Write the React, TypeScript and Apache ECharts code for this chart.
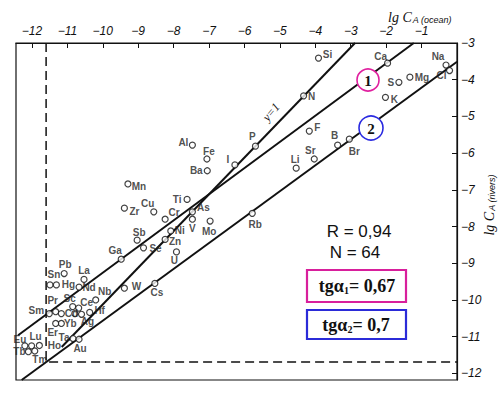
import React, { useEffect, useRef } from "react";
import * as echarts from "echarts";

// ---- data (lg C, ocean vs rivers) ----
const elements = ["Si","Ca","Na","Cl","S","Mg","K","N","F","B","Br","Sr","Li","P","Al","Fe","Ba","I","Ti","As","V","Mo","Rb","Cr","Cu","Mn","Zr","Sb","Ni","Zn","Se","U","Ga","Cs","W","Pb","Sn","Hg","La","Nd","Nb","Hf","Pr","Sc","Ce","Sm","Cd","Ag","","Yb","Er","Ta","Au","Eu","Lu","Ho","Tb","Tm"];
const lgOcean = [-3.91,-1.96,-0.31,-0.21,-1.64,-1.33,-2.02,-4.33,-4.17,-3.37,-3.04,-4.03,-4.54,-5.69,-7.47,-7.06,-7.05,-6.27,-7.62,-7.47,-7.47,-6.97,-5.78,-8.24,-8.56,-9.29,-9.39,-9.03,-8.08,-8.24,-8.85,-7.92,-9.48,-8.53,-9.39,-11.09,-11.49,-11.31,-10.53,-10.67,-10.20,-10.37,-11.33,-10.85,-10.68,-11.51,-11.17,-10.60,-10.79,-11.17,-11.33,-10.84,-10.67,-12.20,-12.01,-11.79,-12.10,-11.92];
const lgRivers = [-3.41,-3.55,-3.60,-3.75,-4.07,-3.93,-4.48,-4.44,-5.40,-5.78,-5.62,-6.16,-6.41,-5.81,-5.78,-6.16,-6.48,-6.32,-7.26,-7.60,-7.80,-7.85,-7.64,-7.80,-7.60,-6.84,-7.50,-8.37,-8.12,-8.35,-8.58,-8.69,-8.89,-9.55,-9.68,-9.28,-9.59,-9.59,-9.44,-9.65,-10.00,-10.34,-10.32,-10.18,-10.22,-10.37,-10.37,-10.39,-10.37,-10.64,-10.64,-11.05,-11.07,-11.25,-11.25,-11.24,-11.41,-11.39];

const unitLineX = [-11.16, -2.88];
const unitLineY = [-11.28, -3.0];
const line1X = [-12.39, -1.22];
const line1Y = [-10.96, -3.0];
const line2X = [-12.29, 0];
const line2Y = [-12.18, -3.51];
const limitX = [-11.6, -11.6, 0];
const limitY = [-3, -11.69, -11.69];

const oceanTicks = [-12, -11, -10, -9, -8, -7, -6, -5, -4, -3, -2, -1];
const riverTicks = [-3, -4, -5, -6, -7, -8, -9, -10, -11, -12];

// label offsets (px) from circle centre to label centre
const labelOffset: Record<string, [number, number]> = {
  Si: [9, -4], Ca: [-7, -7], Na: [-8, -9], Cl: [-8, 5], S: [-8, 0], Mg: [12, 0], K: [9, 2],
  N: [8, 1], F: [8, -4], B: [-3, -10], Br: [5, 12], Sr: [-4, -9], Li: [-1, -9], P: [-3, -10],
  Al: [-9, -3], Fe: [2, -8], Ba: [-11, 0], I: [-7, -5], Ti: [-10, 0], As: [11, -4], V: [0, 9],
  Mo: [-1, 10], Rb: [3, 11], Cr: [9, -7], Cu: [-6, -8], Mn: [11, 3], Zr: [10, 3], Sb: [2, -8],
  Ni: [9, 0], Zn: [10, 2], Se: [12, 1], U: [-2, 9], Ga: [-6, -9], Cs: [2, 9], W: [12, -2],
  Pb: [1, -9], Sn: [4, -10], Hg: [12, 0], La: [0, -9], Nd: [10, 0], Nb: [9, -8], Hf: [10, -2],
  Pr: [-3, -11], Sc: [-3, -8], Ce: [8, -6], Sm: [-13, -3], Cd: [10, 0], Ag: [6, 7], Yb: [9, 0],
  Er: [-3, 9], Ta: [-9, -1], Au: [1, 9], Eu: [-5, -6], Lu: [4, -9], Ho: [15, 0], Tb: [-9, 0], Tm: [5, 9],
};

const pairs = (xs: number[], ys: number[]) => xs.map((x, i) => [x, ys[i]]);

export default function App() {
  const ref = useRef<HTMLDivElement>(null);
  useEffect(() => {
    if (!ref.current) return;
    const chart = echarts.init(ref.current, undefined, { renderer: "svg" });
    const axisFont = { fontFamily: "Liberation Sans", fontStyle: "italic" as const, fontSize: 12, color: "#111" };
    const fmt = (v: number) => String(v).replace("-", "\u2212");
    const solid = { color: "#111", width: 2 };
    chart.setOption({
      animation: false,
      grid: { left: 16, right: 44, top: 43, bottom: 13, show: true, borderColor: "#111", borderWidth: 1.2, outerBoundsMode: "none" },
      xAxis: {
        type: "value", position: "top", min: -12.45, max: 0,
        axisLine: { show: true, onZero: false, lineStyle: { color: "#111", width: 1.2 } },
        axisTick: { show: true, inside: true, length: 5, customValues: oceanTicks, lineStyle: { color: "#111" } },
        axisLabel: { customValues: oceanTicks, formatter: fmt, margin: 6, ...axisFont },
        splitLine: { show: false },
      },
      yAxis: {
        type: "value", position: "right", min: -12.18, max: -3,
        axisLine: { show: true, onZero: false, lineStyle: { color: "#111", width: 1.2 } },
        axisTick: { show: true, inside: true, length: 5, customValues: riverTicks, lineStyle: { color: "#111" } },
        axisLabel: { customValues: riverTicks, formatter: fmt, margin: 4, ...axisFont },
        splitLine: { show: false },
      },
      series: [
        { type: "line", data: pairs(unitLineX, unitLineY), symbol: "none", lineStyle: solid, z: 2, silent: true },
        { type: "line", data: pairs(line1X, line1Y), symbol: "none", lineStyle: solid, z: 2, silent: true },
        { type: "line", data: pairs(line2X, line2Y), symbol: "none", lineStyle: solid, z: 2, silent: true },
        { type: "line", data: pairs(limitX, limitY), symbol: "none", lineStyle: { color: "#111", width: 1.5, type: [9, 5] }, z: 2, silent: true },
        {
          type: "scatter", z: 5, silent: true,
          symbol: "circle", symbolSize: 6,
          itemStyle: { color: "#fff", borderColor: "#111", borderWidth: 1.2 },
          label: {
            show: true, position: "inside", formatter: "{b}",
            fontFamily: "Liberation Sans", fontWeight: "bold", fontSize: 10, color: "#222",
          },
          data: elements.map((n, i) => ({
            name: n, value: [lgOcean[i], lgRivers[i]],
            label: { offset: labelOffset[n] || [0, 0] },
          })),
        },
      ],
      graphic: [
        { type: "text", z: 100, x: 388, y: 17, style: { text: "{c|lg }{c|C}{s|A (ocean)}", align: "left", verticalAlign: "middle", fill: "#111",
          rich: { c: { fontFamily: "Liberation Serif", fontStyle: "italic", fontSize: 14, fill: "#111" }, s: { fontFamily: "Liberation Sans", fontStyle: "italic", fontSize: 9, fill: "#111", verticalAlign: "bottom", padding: [6, 0, 0, 1] } } } },
        { type: "text", z: 100, x: 489, y: 205, rotation: Math.PI / 2, style: { text: "{c|lg }{c|C}{s|A (rivers)}", align: "center", verticalAlign: "middle", fill: "#111",
          rich: { c: { fontFamily: "Liberation Serif", fontStyle: "italic", fontSize: 14, fill: "#111" }, s: { fontFamily: "Liberation Sans", fontStyle: "italic", fontSize: 9, fill: "#111", verticalAlign: "bottom", padding: [6, 0, 0, 1] } } } },
        { type: "text", z: 100, x: 271, y: 112, rotation: 0.88, style: { text: "y=1", align: "center", verticalAlign: "middle", fill: "#111", font: "italic 12px 'Liberation Serif'" } },
        { type: "circle", z: 100, shape: { cx: 368, cy: 80, r: 11 }, style: { fill: "#fff", stroke: "#e0209f", lineWidth: 1.6 } },
        { type: "text", z: 101, x: 368, y: 81, style: { text: "1", align: "center", verticalAlign: "middle", fill: "#111", font: "bold 15px 'Liberation Serif'" } },
        { type: "circle", z: 100, shape: { cx: 371, cy: 128, r: 12 }, style: { fill: "#fff", stroke: "#2a2ae0", lineWidth: 1.6 } },
        { type: "text", z: 101, x: 371, y: 129, style: { text: "2", align: "center", verticalAlign: "middle", fill: "#111", font: "bold 15px 'Liberation Serif'" } },
        { type: "text", z: 100, x: 359, y: 231, style: { text: "R = 0,94", align: "center", verticalAlign: "middle", fill: "#111", font: "17px 'Liberation Sans'" } },
        { type: "text", z: 100, x: 355, y: 252, style: { text: "N = 64", align: "center", verticalAlign: "middle", fill: "#111", font: "17px 'Liberation Sans'" } },
        { type: "rect", z: 100, shape: { x: 307, y: 270, width: 99, height: 32 }, style: { fill: "#fff", stroke: "#d81f9c", lineWidth: 2.2 } },
        { type: "text", z: 101, x: 357, y: 286, style: { text: "{a|tgα}{s|1}{a|= 0,67}", align: "center", verticalAlign: "middle", fill: "#111",
          rich: { a: { fontFamily: "Liberation Serif", fontWeight: "bold", fontSize: 18, fill: "#111" }, s: { fontFamily: "Liberation Serif", fontWeight: "bold", fontSize: 10, fill: "#111", verticalAlign: "bottom", padding: [8, 0, 0, 0] } } } },
        { type: "rect", z: 100, shape: { x: 307, y: 310, width: 99, height: 29 }, style: { fill: "#fff", stroke: "#2b2bd8", lineWidth: 2.2 } },
        { type: "text", z: 101, x: 356, y: 325, style: { text: "{a|tgα}{s|2}{a|= 0,7}", align: "center", verticalAlign: "middle", fill: "#111",
          rich: { a: { fontFamily: "Liberation Serif", fontWeight: "bold", fontSize: 18, fill: "#111" }, s: { fontFamily: "Liberation Serif", fontWeight: "bold", fontSize: 10, fill: "#111", verticalAlign: "bottom", padding: [8, 0, 0, 0] } } } },
      ],
    });
    return () => chart.dispose();
  }, []);
  return <div ref={ref} style={{ position: "absolute", left: 0, top: 0, width: 501, height: 393, background: "#fff" }} />;
}
